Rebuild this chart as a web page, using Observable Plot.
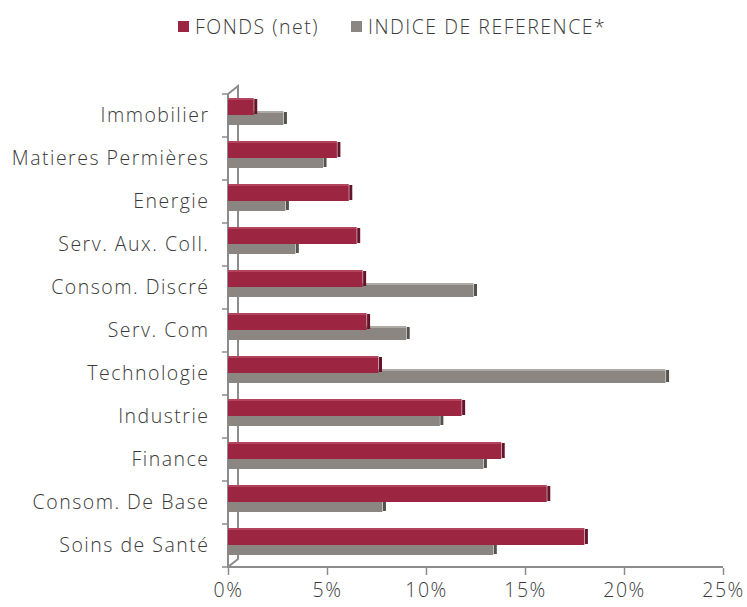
<!DOCTYPE html>
<html>
<head>
<meta charset="utf-8">
<script src="https://cdn.jsdelivr.net/npm/d3@7"></script>
<script src="https://cdn.jsdelivr.net/npm/@observablehq/plot@0.6"></script>
<style>
  html, body { margin: 0; padding: 0; background: #ffffff; }
  body { width: 747px; height: 607px; overflow: hidden; font-family: "Open Sans", Lato, sans-serif; font-weight: 300; color: #3a3a3a; }
  .legend { height: 50px; display: flex; align-items: center; padding-left: 178px; font-size: 19.5px; letter-spacing: 1.5px; box-sizing: border-box; padding-top: 2px; }
  .legend .item { display: flex; align-items: center; margin-right: 32px; }
  .legend .sw { width: 11px; height: 11px; margin-right: 6px; }
  svg { display: block; }
  svg text { letter-spacing: 1.5px; }
</style>
</head>
<body>
<div class="legend" id="legend"></div>
<div id="chart"></div>
<script>
const categories = ["Immobilier", "Matieres Permières", "Energie", "Serv. Aux. Coll.", "Consom. Discré", "Serv. Com", "Technologie", "Industrie", "Finance", "Consom. De Base", "Soins de Santé"];
const fonds = [1.3, 5.5, 6.1, 6.5, 6.8, 7.0, 7.6, 11.8, 13.8, 16.1, 18.0];
const indice = [2.8, 4.8, 2.9, 3.4, 12.4, 9.0, 22.1, 10.7, 12.9, 7.8, 13.4];
const seriesNames = ["FONDS (net)", "INDICE DE REFERENCE*"];
const xTicks = [0, 5, 10, 15, 20, 25];

const colors = {
  red: "#9c2641", redTop: "#b4445c", redSide: "#64152a",
  gray: "#8b8681", grayTop: "#aeaaa5", graySide: "#55514d",
  axis: "#8c8c8c"
};

// legend
const legend = document.getElementById("legend");
[[seriesNames[0], colors.red], [seriesNames[1], colors.gray]].forEach(([name, c]) => {
  const it = document.createElement("div");
  it.className = "item";
  it.innerHTML = `<span class="sw" style="background:${c}"></span><span>${name}</span>`;
  legend.appendChild(it);
});

const dataF = categories.map((c, i) => ({cat: c, value: fonds[i]}));
const dataI = categories.map((c, i) => ({cat: c, value: indice[i]}));

// 3D wall / axis frame drawn from the scales
function wall(index, scales, values, dimensions) {
  const {x, y} = scales;
  const x0 = x(0);
  const top = y(categories[0]);
  const bottom = y(categories[categories.length - 1]) + y.bandwidth();
  const xr = x(25);
  const g = d3.create("svg:g").attr("fill", "none").attr("stroke", colors.axis).attr("stroke-width", 2);
  g.append("path").attr("d", `M${x0},${top}L${x0 + 10},${top - 8}L${x0 + 10},${bottom - 8}L${x0},${bottom}`);
  g.append("path").attr("d", `M${x0},${top}L${x0},${bottom}L${xr},${bottom}`);
  const bounds = categories.map(c => y(c)).concat([bottom]);
  for (const b of bounds) g.append("path").attr("d", `M${x0 - 6},${b}L${x0},${b}`).attr("stroke-width", 1.5);
  return g.node();
}

const chart = Plot.plot({
  width: 747,
  height: 557,
  marginLeft: 228,
  marginRight: 24,
  marginTop: 43,
  marginBottom: 39,
  style: {fontFamily: "'Open Sans', Lato, sans-serif", fontWeight: 300, fontSize: "19.5px", color: "#3a3a3a", background: "#ffffff", overflow: "visible"},
  x: {domain: [0, 25], ticks: xTicks, tickFormat: d => d + "%", label: null},
  y: {domain: categories, padding: 0, label: null},
  marks: [
    wall,
    // index series (behind)
    Plot.barX(dataI, {x: "value", y: "cat", fill: colors.grayTop, insetTop: 17, insetBottom: 24}),
    Plot.barX(dataI, {x: "value", y: "cat", fill: colors.gray, insetTop: 19, insetBottom: 12}),
    Plot.tickX(dataI, {x: "value", y: "cat", stroke: colors.graySide, strokeWidth: 3, dx: 1.5, insetTop: 18, insetBottom: 13}),
    // fund series (front)
    Plot.barX(dataF, {x: "value", y: "cat", fill: colors.redTop, insetTop: 4, insetBottom: 37}),
    Plot.barX(dataF, {x: "value", y: "cat", fill: colors.red, insetTop: 6, insetBottom: 22}),
    Plot.tickX(dataF, {x: "value", y: "cat", stroke: colors.redSide, strokeWidth: 3, dx: 1.5, insetTop: 5, insetBottom: 23}),
    Plot.axisY({tickSize: 0, tickPadding: 19, fill: "#3a3a3a", label: null}),
    Plot.axisX({ticks: xTicks, tickFormat: d => d + "%", tickSize: 7, tickPadding: 8, stroke: colors.axis, strokeWidth: 1.5, fill: "#3a3a3a", label: null})
  ]
});
document.getElementById("chart").appendChild(chart);
</script>
</body>
</html>
